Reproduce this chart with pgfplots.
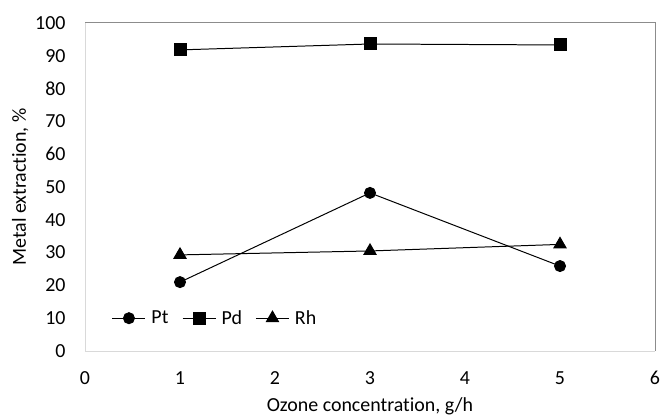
\documentclass[border=0pt]{standalone}
\usepackage{fontspec}
\setmainfont{Carlito}[Ligatures=NoCommon]
\usepackage{pgfplots}
\pgfplotsset{compat=1.18}

\begin{document}
\begin{tikzpicture}
\begin{axis}[
    name=ax,
    scale only axis,
    width=570bp, height=328bp,
    xmin=0, xmax=6, ymin=0, ymax=100,
    xtick={0,1,...,6}, ytick={0,10,...,100},
    major tick length=0pt,
    axis line style={draw=none},
    tick label style={font=\fontsize{20}{22}\selectfont},
    label style={font=\fontsize{20}{22}\selectfont},
    /pgf/number format/assume math mode=true,
    xticklabel style={yshift=-17bp},
    yticklabel style={xshift=-16bp},
    xlabel={Ozone concentration, g/h},
    ylabel={Metal extraction, \%},
    xlabel style={yshift=-6bp},
    clip=false,
    legend columns=3,
    legend style={draw=none, fill=none, at={(0.018,0.1)}, anchor=west,
        font=\fontsize{20}{22}\selectfont, column sep=0pt,
        nodes={inner xsep=0pt}},
    legend image code/.code={
        \path[draw=none, fill=none] (-14bp,0bp) -- (39bp,0bp);
        \draw[#1] (0bp,0bp) -- (33bp,0bp);
        \draw[#1, mark repeat=1] plot coordinates {(16.5bp,0bp)};
    },
]
\draw[color=black!15, line width=1pt] (rel axis cs:0,1) -- (rel axis cs:0,0) -- (rel axis cs:1,0);
\draw[color=black!45, line width=1pt] (rel axis cs:0,1) -- (rel axis cs:1,1) -- (rel axis cs:1,0);
\addplot[black, line width=1pt, mark=*, mark size=5.5bp] coordinates {
    (1, 21.0) (3, 48.2) (5, 25.9)
};
\addlegendentry{Pt}
\addplot[black, line width=1pt, mark=square*, mark size=6bp] coordinates {
    (1, 91.8) (3, 93.6) (5, 93.3)
};
\addlegendentry{Pd}
\addplot[black, line width=1pt, mark=triangle*, mark size=7bp] coordinates {
    (1, 29.3) (3, 30.5) (5, 32.5)
};
\addlegendentry{Rh}
\end{axis}
\pgfresetboundingbox
\path ([xshift=-85bp,yshift=-68bp]ax.south west) rectangle ([xshift=6bp,yshift=23bp]ax.north east);
\end{tikzpicture}
\end{document}
